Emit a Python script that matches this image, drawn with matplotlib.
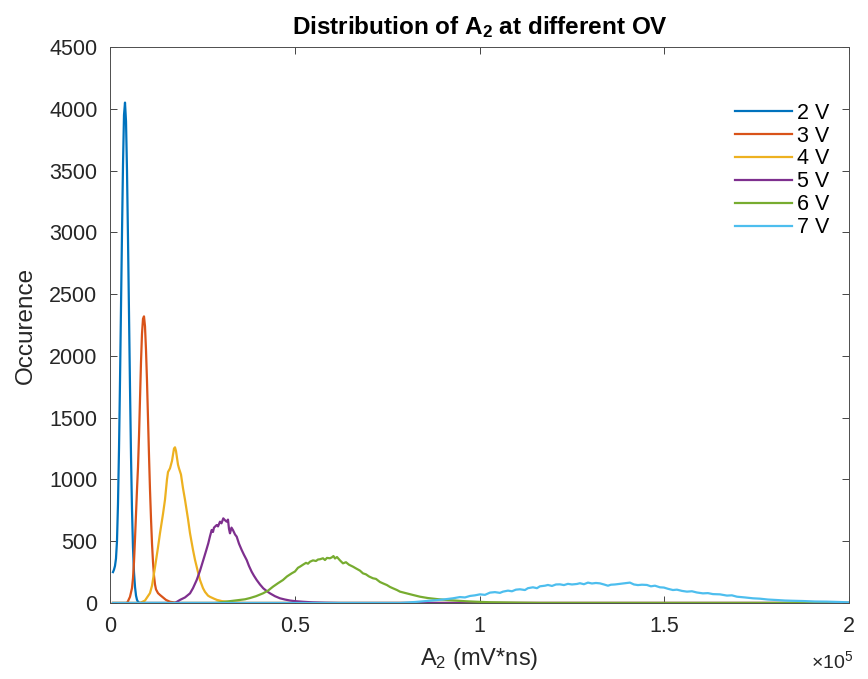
import matplotlib
matplotlib.use("Agg")
import matplotlib.pyplot as plt
from matplotlib.ticker import FuncFormatter, MultipleLocator

plt.rcParams['font.family'] = ['Liberation Sans', 'DejaVu Sans']
plt.rcParams['mathtext.fontset'] = 'custom'
plt.rcParams['mathtext.rm'] = 'Liberation Sans'
plt.rcParams['mathtext.it'] = 'Liberation Sans'
plt.rcParams['mathtext.bf'] = 'Liberation Sans:bold'

labels = ["2 V", "3 V", "4 V", "5 V", "6 V", "7 V"]
colors = ["#0072BD", "#D95319", "#EDB120", "#7E2F8E", "#77AC30", "#4DBEEE"]

x_2v = [810, 1080, 1350, 1620, 1890, 2160, 2440, 2710, 2980, 3250, 3520, 3790, 4060,
        4330, 4600, 4870, 5140, 5410, 5680, 5950, 6220, 6490, 6770, 7040, 7310,
        7580, 7850, 8120, 200000]
y_2v = [250, 270, 300, 360, 500, 800, 1250, 1800, 2400, 3000, 3550, 3950, 4050,
        3900, 3500, 2950, 2350, 1750, 1200, 760, 450, 250, 130, 60, 25,
        10, 3, 0, 0]

x_3v = [810, 4600, 4870, 5410, 5950, 6220, 6490, 6770, 7040, 7310, 7580, 7850, 8120,
        8390, 8660, 8930, 9200, 9470, 9740, 10010, 10280, 10550, 10820, 11100,
        11370, 11640, 11910, 12180, 12450, 12990, 13530, 14340, 15150, 16240,
        17590, 18940, 200000]
y_3v = [0, 0, 15, 50, 120, 200, 330, 520, 720, 920, 1100, 1350, 1650,
        1950, 2180, 2300, 2320, 2240, 2050, 1800, 1500, 1200, 920, 680,
        480, 330, 220, 150, 110, 80, 65, 45, 25, 10,
        3, 0, 0]

x_4v = [810, 8120, 9470, 10820, 11370, 12180, 12990, 13530, 14340, 14880, 15420,
        15700, 16240, 16780, 17320, 17590, 17860, 18400, 18670, 19210, 19750,
        20300, 21110, 21650, 22460, 23000, 23810, 24350, 25170, 25710, 26520,
        27060, 28140, 28950, 30310, 31660, 33830, 36530, 200000]
y_4v = [0, 0, 20, 80, 140, 290, 450, 565, 720, 835, 1000,
        1060, 1090, 1150, 1250, 1260, 1230, 1120, 1090, 1040, 930,
        835, 680, 565, 430, 350, 250, 186, 120, 90, 60,
        50, 35, 25, 15, 10, 4, 0, 0]

x_5v = [810, 17590, 18940, 20300, 21650, 22460, 23460, 24350, 25250, 25980, 26600,
        27060, 27520, 27870, 28140, 28870, 29230, 29770, 30170, 30660, 31120,
        31580, 31930, 32200, 32470, 32880, 33280, 33830, 34290, 34910, 35640,
        36260, 36990, 37610, 38340, 38970, 39700, 40590, 41480, 42480, 43300,
        44650, 46000, 47360, 48710, 50060, 52230, 54930, 58180, 62240, 200000]
y_5v = [0, 0, 25, 45, 78, 120, 186, 260, 348, 420, 483,
        540, 591, 575, 610, 631, 620, 658, 645, 685, 670,
        658, 675, 600, 564, 610, 590, 555, 537, 480, 429,
        390, 348, 300, 253, 220, 186, 150, 119, 95, 78,
        55, 38, 28, 20, 15, 10, 5, 2, 0, 0]

x_6v = [810, 28410, 31120, 33830, 36530, 37880, 39510, 41400, 42760, 44110, 45460,
        46810, 47900, 49170, 50060, 50870, 51410, 52230, 53040, 53580, 54120,
        54930, 55740, 56290, 56830, 57640, 58180, 58720, 59530, 60070, 60480,
        60890, 61430, 62240, 63050, 63860, 64670, 65760, 66570, 67650, 68460,
        69270, 70090, 71170, 71980, 73060, 73870, 74960, 75770, 76580, 77660,
        78470, 80290, 81990, 83890, 86050, 88410, 90920, 93820, 96330, 99230,
        102830, 106890, 110950, 116360, 200000]
y_6v = [0, 0, 10, 20, 30, 40, 55, 78, 100, 132, 160,
        186, 215, 240, 255, 285, 294, 310, 325, 318, 334,
        345, 340, 352, 354, 362, 348, 365, 362, 370, 380,
        360, 372, 345, 321, 330, 310, 294, 280, 262, 240,
        232, 215, 200, 195, 170, 159, 145, 130, 119, 105,
        92, 78, 65, 51, 40, 32, 25, 19, 14, 10,
        6, 4, 2, 0, 0]

x_7v = [810, 78470, 82530, 85240, 87950, 90650, 92820, 94710, 96060, 97420, 98770,
        100120, 101480, 102830, 104180, 105530, 106350, 107700, 108780, 109860,
        110950, 112300, 113110, 114460, 115550, 116360, 117710, 118520, 119610,
        120690, 121770, 122850, 123930, 125020, 126370, 127180, 128260, 129350,
        130430, 131510, 132590, 133680, 134760, 135570, 136650, 138010, 139360,
        140710, 141790, 142880, 143960, 145310, 146390, 147480, 148830, 149910,
        150990, 152350, 153430, 154780, 156140, 157490, 158840, 160470, 161820,
        163170, 165070, 166960, 168310, 169670, 171830, 174000, 175890, 178060,
        180490, 182660, 184820, 187530, 190770, 194020, 197540, 200000]
y_7v = [0, 0, 8, 15, 22, 30, 38, 48, 45, 57, 62,
        70, 66, 84, 88, 82, 92, 100, 95, 108,
        111, 105, 120, 127, 120, 135, 140, 146, 138,
        150, 151, 145, 155, 150, 154, 160, 152, 165,
        158, 162, 159, 150, 140, 148, 150, 155, 160,
        165, 150, 145, 148, 146, 135, 140, 127, 125,
        115, 105, 108, 98, 92, 95, 85, 78, 80,
        72, 70, 60, 62, 51, 45, 38, 35, 28,
        24, 20, 18, 16, 12, 11, 8, 5]

xs = [x_2v, x_3v, x_4v, x_5v, x_6v, x_7v]
ys = [y_2v, y_3v, y_4v, y_5v, y_6v, y_7v]

W, H = 868, 679
fig = plt.figure(figsize=(W / 100, H / 100), dpi=100)
ax = fig.add_axes([110 / W, 1 - 603 / H, (849 - 110) / W, (603 - 47) / H])

for x, y, c, lab in zip(xs, ys, colors, labels):
    ax.plot(x, y, color=c, lw=1.6, label=lab)

txt = '#262626'
ax.set_xlim(0, 200000)
ax.set_ylim(0, 4500)
ax.xaxis.set_major_locator(MultipleLocator(50000))
ax.yaxis.set_major_locator(MultipleLocator(500))
ax.xaxis.set_major_formatter(FuncFormatter(lambda v, p: f"{v / 1e5:g}"))
ax.tick_params(direction='in', top=True, right=True, length=5, width=0.6,
               labelsize=15.5, colors=txt)
ax.tick_params(axis='x', pad=9)
ax.tick_params(axis='y', pad=9)
for s in ax.spines.values():
    s.set_color('#4d4d4d')
    s.set_linewidth(0.7)

ax.set_title(r"Distribution of A$_\mathbf{2}$ at different OV", fontsize=17.5,
             fontweight='bold', color='black', pad=9)
ax.set_xlabel(r"A$_2$ (mV*ns)", fontsize=17, color=txt, labelpad=7)
ax.set_ylabel("Occurence", fontsize=17.5, color=txt, labelpad=9)
ax.text(1.006, -0.105, r"$\times$10$^5$", transform=ax.transAxes, ha='right',
        va='center', fontsize=14, color=txt)

ax.legend(loc='upper right', bbox_to_anchor=(0.973, 0.9), frameon=False,
          fontsize=15.5, handlelength=2.65, handletextpad=0.23, labelspacing=0.09,
          borderpad=0, borderaxespad=0)

fig.savefig("out.png", dpi=100)
